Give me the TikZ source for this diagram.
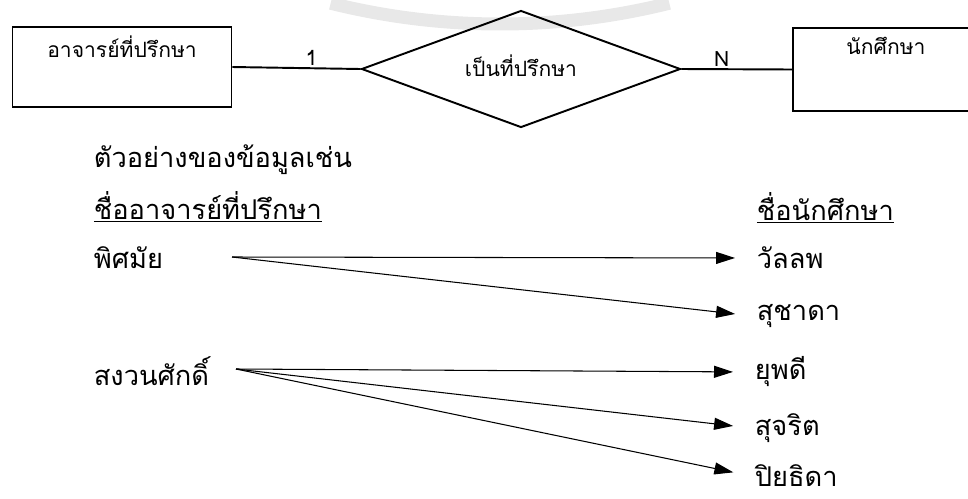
\documentclass[tikz,border=0pt]{standalone}
\usepackage{fontspec}
\setmainfont[Script=Thai]{Loma}
\usetikzlibrary{shapes.geometric,arrows.meta,positioning}

\begin{document}
\begin{tikzpicture}[x=0.02cm,y=-0.02cm,
  entity/.style={draw,line width=1.1pt,minimum width=4.38cm,minimum height=1.6cm,inner sep=0pt},
  relation/.style={diamond,draw,line width=1.1pt,minimum width=6.38cm,minimum height=2.34cm,inner sep=0pt},
  boxtext/.style={font=\fontsize{12}{14}\selectfont},
  cardtext/.style={above,inner sep=1pt,font=\fontsize{12}{14}\selectfont},
  datatext/.style={anchor=west,inner sep=2pt,font=\fontsize{15.5}{18}\selectfont},
  link/.style={line width=0.6pt,-{Triangle[length=0.38cm,width=0.24cm]},shorten >=0.36cm}]

  \useasboundingbox (0,0) rectangle (968,498);

  % faint logo ring behind the top
  \draw[gray!18,line width=0.26cm] (500,-676) ++(76:700) arc[start angle=76,end angle=104,radius=700];

  % entities and relationship
  \node[entity] (advisor) at (122,67) {};
  \node[boxtext,below=0.08cm of advisor.north] (advisorname) {อาจารย์ที่ปรึกษา};
  \node[relation] (advises) at (521,69) {};
  \node[boxtext] (advisesname) at (521,66) {เป็นที่ปรึกษา};
  \node[entity,minimum width=4.6cm,minimum height=1.66cm] (student) at (908,69.5) {};
  \node[boxtext,below=0.08cm of student.north,xshift=-0.44cm] (studentname) {นักศึกษา};

  \draw[line width=1.1pt] (advisor.east) -- node[cardtext,xshift=0.3cm] (one) {1} (advises.west);
  \draw[line width=1.1pt] (advises.east) -- node[cardtext,xshift=-0.3cm] (many) {N} (student.west);

  % sample data
  \node[datatext] (example) at (90,160) {ตัวอย่างของข้อมูลเช่น};
  \node[datatext] (advcol) at (90,207) {\underline{ชื่ออาจารย์ที่ปรึกษา}};
  \node[datatext] (stucol) at (753,208) {\underline{ชื่อนักศึกษา}};

  \node[datatext] (a1) at (90,258) {พิศมัย};
  \node[datatext] (a2) at (90,371) {สงวนศักดิ์};

  \node[datatext] (s1) at (753,258) {วัลลพ};
  \node[datatext] (s2) at (753,316) {สุชาดา};
  \node[datatext] (s3) at (751,372) {ยุพดี};
  \node[datatext] (s4) at (751,428) {สุจริต};
  \node[datatext] (s5) at (751,476) {ปิยธิดา};

  \coordinate (from1) at (232,257);
  \coordinate (from2) at (236,369);

  \draw[link] (from1) -- (s1.west);
  \draw[link] (from1) -- (s2.west);
  \draw[link] (from2) -- (s3.west);
  \draw[link] (from2) -- (s4.west);
  \draw[link] (from2) -- (s5.west);

\end{tikzpicture}
\end{document}
